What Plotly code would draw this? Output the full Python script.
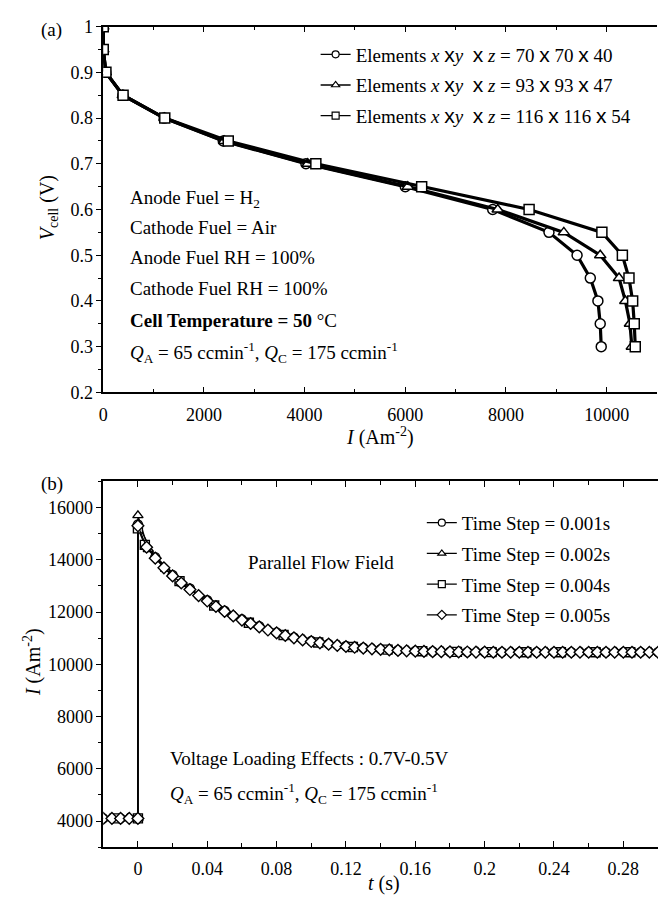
import numpy as np
import plotly.graph_objects as go

# ---------------- panel (a): polarization curves ----------------
V_cell = [1.0, 0.95, 0.9, 0.85, 0.8, 0.75, 0.7, 0.65, 0.6, 0.55, 0.5, 0.45, 0.4, 0.35, 0.3]
I_70 = [0, 0, 50, 390, 1210, 2384, 4026, 6000, 7736, 8854, 9412, 9675, 9826, 9872, 9892]
I_93 = [0, 0, 50, 390, 1215, 2400, 4060, 6050, 7836, 9149, 9872, 10246, 10371, 10463, 10500]
I_116 = [0, 0, 53, 394, 1222, 2483, 4223, 6325, 8459, 9905, 10312, 10443, 10516, 10548, 10568]

mesh_names = ["70 x 70 x 40", "93 x 93 x 47", "116 x 116 x 54"]
mesh_symbols = ["circle", "triangle-up", "square"]

# ---------------- panel (b): transient current response ----------------
I_base = 4100  # current before the voltage step (0.7 V)

# time step 0.001 s, plotted every 0.01 s
t_001 = [-0.02, -0.01, 0.0] + [round(0.01 * k, 3) for k in range(0, 31)]
I_001 = [I_base, I_base, I_base,
         15350, 14100, 13420, 12900, 12450, 12050, 11720, 11460, 11220, 11030,
         10890, 10780, 10700, 10630, 10580, 10540, 10510, 10490, 10480, 10475,
         10470, 10465, 10465, 10465, 10465, 10465, 10465, 10465, 10465, 10465, 10465]

# time step 0.002 s
t_002 = [-0.016, -0.006, 0.0, 0.0] + [round(0.006 + 0.01 * k, 3) for k in range(0, 30)]
I_002 = [I_base, I_base, I_base, 15700,
         14400, 13640, 13070, 12600, 12180, 11830, 11540, 11300, 11090, 10930,
         10810, 10720, 10650, 10590, 10550, 10515, 10495, 10480, 10475, 10470,
         10465, 10465, 10465, 10465, 10465, 10465, 10465, 10465, 10465, 10465]

# time step 0.004 s
t_004 = [-0.012, 0.0, 0.0] + [round(0.004 + 0.02 * k, 3) for k in range(0, 15)]
I_004 = [I_base, I_base, 15200,
         14570, 13180, 12250, 11590, 11120, 10830, 10660, 10560, 10500, 10475,
         10465, 10460, 10460, 10460, 10460]

# time step 0.005 s
t_005 = [-0.02, -0.015, -0.01, -0.005, 0.0] + [round(0.005 * k, 3) for k in range(0, 61)]
I_005 = [I_base, I_base, I_base, I_base, I_base,
         15300, 14480, 14060, 13690, 13380, 13110, 12860, 12630, 12420, 12210,
         12020, 11850, 11690, 11560, 11430, 11310, 11200, 11100, 11010, 10930,
         10870, 10820, 10770, 10720, 10680, 10650, 10620, 10590, 10570, 10550,
         10530, 10515, 10500, 10490, 10485, 10480, 10475, 10470, 10470, 10465,
         10465,
         10460, 10460, 10460, 10460, 10460, 10460, 10460, 10460, 10460, 10460,
         10460, 10460, 10460, 10460, 10460, 10460, 10460, 10460, 10460, 10460]

step_names = ["0.001s", "0.002s", "0.004s", "0.005s"]
step_symbols = ["circle", "triangle-up", "square", "diamond"]

FONT = "Liberation Serif"
W, H = 659, 907


def px(x):
    return x / W


def py(y):
    return 1 - y / H


fig = go.Figure()

# panel (a) curves
for I_vals, sym in zip([I_70, I_93, I_116], mesh_symbols):
    fig.add_trace(go.Scatter(
        x=I_vals, y=V_cell, mode="lines+markers", xaxis="x", yaxis="y",
        line=dict(color="black", width=3.2),
        marker=dict(symbol=sym, size=10, color="white",
                    line=dict(color="black", width=1.5)),
        showlegend=False, hoverinfo="skip"))

X = "<span style='font-family:Liberation Sans;font-size:21px'>x</span>"
for name, sym in zip(mesh_names, mesh_symbols):
    a, b, c = name.split(" x ")
    label = (f"Elements <i>x</i> {X}<i>y</i>\u00a0\u00a0{X} <i>z</i> = "
             f"{a} {X} {b} {X} {c}")
    fig.add_trace(go.Scatter(
        x=[None], y=[None], mode="lines+markers", xaxis="x", yaxis="y",
        name=label, legend="legend", legendgroup=name,
        line=dict(color="black", width=1.3),
        marker=dict(symbol=sym, size=7, color="white",
                    line=dict(color="black", width=1.2))))

# panel (b) curves
for t_vals, I_vals, sym in zip([t_001, t_002, t_004, t_005],
                               [I_001, I_002, I_004, I_005], step_symbols):
    fig.add_trace(go.Scatter(
        x=t_vals, y=I_vals, mode="lines+markers", xaxis="x2", yaxis="y2",
        line=dict(color="black", width=1.3),
        marker=dict(symbol=sym, size=9, color="white",
                    line=dict(color="black", width=1.4)),
        showlegend=False, hoverinfo="skip"))

for name, sym in zip(step_names, step_symbols):
    fig.add_trace(go.Scatter(
        x=[None], y=[None], mode="lines+markers", xaxis="x2", yaxis="y2",
        name=f"Time Step = {name}", legend="legend2", legendgroup=name,
        line=dict(color="black", width=1.3),
        marker=dict(symbol=sym, size=7, color="white",
                    line=dict(color="black", width=1.2))))

dom_x = [px(99), px(657)]
dom_y1 = [py(391), py(17)]
dom_y2 = [py(856), py(482)]

tickfont = dict(family=FONT, size=18, color="black")
common = dict(showline=True, linecolor="black", linewidth=1.5, showgrid=False,
              zeroline=False, tickcolor="black", tickwidth=1.2, tickfont=tickfont)
minor_in = lambda d: dict(dtick=d, ticks="inside", ticklen=4,
                          tickcolor="black", tickwidth=1.2)
minor_out = lambda d: dict(dtick=d, ticks="outside", ticklen=3,
                           tickcolor="black", tickwidth=1.2)

fig.update_layout(
    width=W, height=H, margin=dict(l=0, r=0, t=0, b=0),
    paper_bgcolor="white", plot_bgcolor="white",
    font=dict(family=FONT, size=19, color="black"),
    xaxis=dict(domain=dom_x, anchor="y", range=[0, 11000], dtick=2000,
               tickformat="d", ticks="inside", ticklen=6, mirror="ticks",
               ticklabelstandoff=5, minor=minor_in(1000), **common),
    yaxis=dict(domain=dom_y1, anchor="x", range=[0.2, 1.0], dtick=0.1,
               ticks="outside", ticklen=5, minor=minor_out(0.05), **common),
    yaxis3=dict(overlaying="y", anchor="x", side="right", range=[0.2, 1.0],
                dtick=0.1, ticks="inside", ticklen=5, showticklabels=False,
                minor=dict(dtick=0.05, ticks="inside", ticklen=3,
                           tickcolor="black", tickwidth=1.2),
                **common),
    xaxis2=dict(domain=[px(99), px(658)], anchor="y2", range=[-0.02, 0.30],
                tick0=0, dtick=0.04, ticks="inside", ticklen=6, mirror="ticks",
                ticklabelstandoff=5, minor=minor_in(0.02), **common),
    yaxis2=dict(domain=dom_y2, anchor="x2", range=[3000, 17000], dtick=2000,
                tick0=0, tickformat="d", ticks="outside", ticklen=5,
                minor=minor_out(1000), **common),
    yaxis4=dict(overlaying="y2", anchor="x2", side="right", range=[3000, 17000],
                dtick=2000, tick0=0, ticks="inside", ticklen=5,
                showticklabels=False,
                minor=dict(dtick=1000, ticks="inside", ticklen=3,
                           tickcolor="black", tickwidth=1.2),
                **common),
    legend=dict(x=px(313), y=py(26), xanchor="left", yanchor="top",
                bgcolor="rgba(0,0,0,0)", traceorder="grouped",
                tracegroupgap=3, font=dict(family=FONT, size=19)),
    legend2=dict(x=px(420), y=py(505), xanchor="left", yanchor="top",
                 bgcolor="rgba(0,0,0,0)", traceorder="grouped",
                 tracegroupgap=3, font=dict(family=FONT, size=19)),
)

notes = [
    # panel (a)
    ("(a)", 47, 20, "center", 0, 19),
    ("Anode Fuel = H<sub>2</sub>", 124, 193, "left", 0, 19),
    ("Cathode Fuel = Air", 124, 222, "left", 0, 19),
    ("Anode Fuel RH = 100%", 124, 253, "left", 0, 19),
    ("Cathode Fuel RH = 100%", 124, 285, "left", 0, 19),
    ("<b>Cell Temperature = 50</b> \u00b0C", 124, 318, "left", 0, 19),
    ("<i>Q</i><sub>A</sub> = 65 ccmin<sup>-1</sup>, <i>Q</i><sub>C</sub> = 175 ccmin<sup>-1</sup>",
     124, 350, "left", 0, 19),
    ("<i>I</i> (Am<sup>-2</sup>)", 378, 436, "center", 0, 20),
    ("<i>V</i><sub>cell</sub> (V)", 44, 202, "center", -90, 20),
    # panel (b)
    ("(b)", 47, 485, "center", 0, 19),
    ("Parallel Flow Field", 243, 565, "left", 0, 19),
    ("Voltage Loading Effects : 0.7V-0.5V", 164, 765, "left", 0, 19),
    ("<i>Q</i><sub>A</sub> = 65 ccmin<sup>-1</sup>, <i>Q</i><sub>C</sub> = 175 ccmin<sup>-1</sup>",
     164, 801, "left", 0, 19),
    ("<i>t</i> (s)", 382, 893, "center", 0, 20),
    ("<i>I</i> (Am<sup>-2</sup>)", 27, 667, "center", -90, 20),
]
for text, x, y, anchor, ang, size in notes:
    fig.add_annotation(text=text, x=px(x), y=py(y), xref="paper", yref="paper",
                       xanchor=anchor, yanchor="middle", showarrow=False,
                       textangle=ang, font=dict(family=FONT, size=size, color="black"))

fig.write_html("out.html")
